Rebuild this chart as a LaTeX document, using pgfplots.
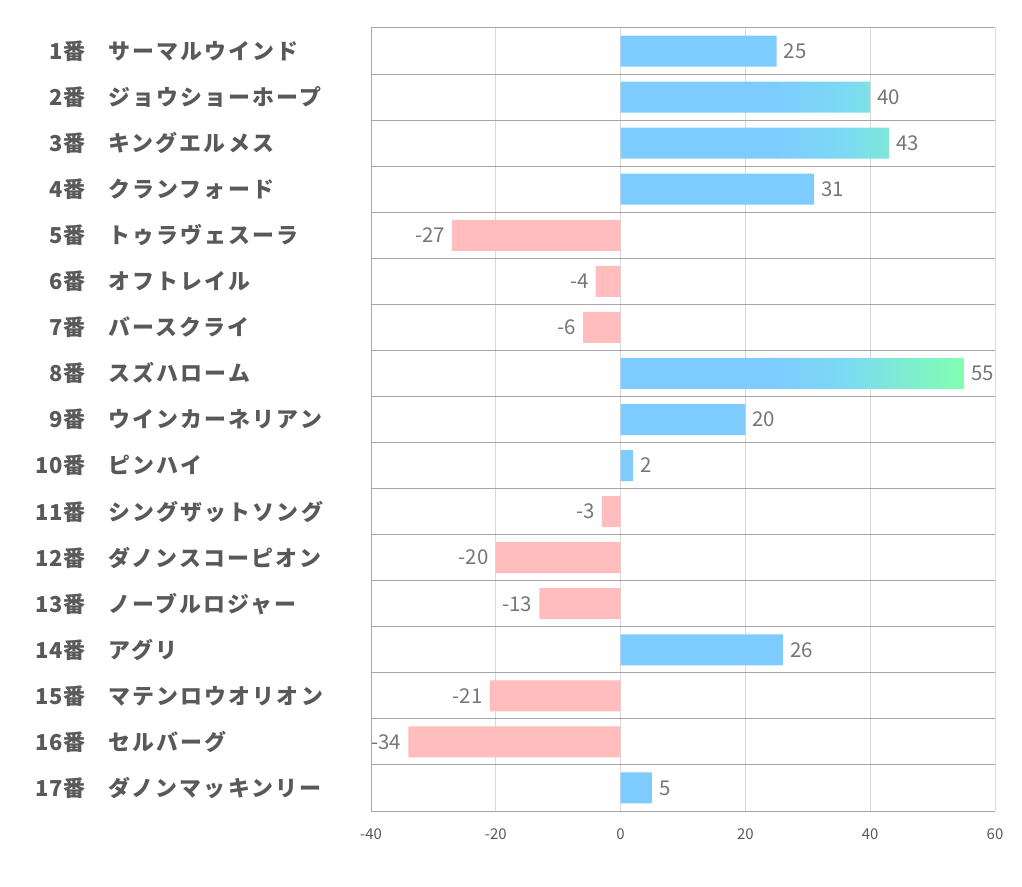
\documentclass[border=0pt]{standalone}
\usepackage{pgfplots}
\pgfplotsset{compat=1.18}
\usepackage{fontspec}
\setmainfont{Noto Sans CJK JP}
\definecolor{barblue}{RGB}{125,203,255}
\definecolor{barcyan}{RGB}{124,218,242}
\definecolor{bargreen}{RGB}{128,255,176}
\definecolor{barpink}{RGB}{255,189,189}
\definecolor{sepgray}{RGB}{166,166,166}
\definecolor{gridgray}{RGB}{217,217,217}
\definecolor{labgray}{RGB}{89,89,89}
\definecolor{valgray}{RGB}{118,118,118}
\pgfdeclarehorizontalshading{bargrad}{100bp}{color(0bp)=(barblue); color(25bp)=(barblue); color(47bp)=(barblue); color(58bp)=(barcyan); color(75bp)=(bargreen); color(100bp)=(bargreen)}
\newcommand{\lab}[2]{\makebox[62bp][r]{\addfontfeature{LetterSpace=3}#1}\hspace{23bp}{\addfontfeature{LetterSpace=10}#2}}
\begin{document}
\begin{tikzpicture}[x=1bp,y=1bp]
\begin{axis}[at={(371bp,76bp)}, anchor=south west, scale only axis,
  width=624bp, height=783bp,
  xbar, bar shift=0pt, bar width=31bp,
  xmin=-40, xmax=60, ymin=0.5, ymax=17.5, y dir=reverse,
  xtick={-40,-20,0,20,40,60}, xticklabels={-40,-20,0,20,40,60},
  ytick={1,...,17},
  yticklabels={
    {\lab{1番}{サーマルウインド}},
    {\lab{2番}{ジョウショーホープ}},
    {\lab{3番}{キングエルメス}},
    {\lab{4番}{クランフォード}},
    {\lab{5番}{トゥラヴェスーラ}},
    {\lab{6番}{オフトレイル}},
    {\lab{7番}{バースクライ}},
    {\lab{8番}{スズハローム}},
    {\lab{9番}{ウインカーネリアン}},
    {\lab{10番}{ピンハイ}},
    {\lab{11番}{シングザットソング}},
    {\lab{12番}{ダノンスコーピオン}},
    {\lab{13番}{ノーブルロジャー}},
    {\lab{14番}{アグリ}},
    {\lab{15番}{マテンロウオリオン}},
    {\lab{16番}{セルバーグ}},
    {\lab{17番}{ダノンマッキンリー}}},
  minor ytick={0.5,1.5,...,16.5},
  yminorgrids, xmajorgrids,
  major grid style={gridgray, line width=0.75bp},
  minor grid style={sepgray, line width=1bp},
  axis x line*=bottom, axis y line*=left,
  axis line style={sepgray, line width=1bp, -},
  major tick length=0pt, minor tick length=0pt,
  tick style={draw=none},
  xticklabel style={font=\fontsize{15}{17}\selectfont, text=labgray, yshift=-14bp},
  yticklabel style={anchor=west, inner sep=0pt, xshift=-348bp, font=\fontsize{22}{24}\selectfont\bfseries, text=labgray},
  nodes near coords={\pgfmathprintnumber[assume math mode=true]{\pgfplotspointmeta}},
  nodes near coords style={font=\fontsize{20.5}{22}\selectfont, text=valgray, inner xsep=7bp},
  point meta=x,
]
\addplot[draw=none, fill=barblue] coordinates {(25,1) (31,4) (20,9) (2,10) (26,14) (5,17)};
\addplot[draw=none, shading=bargrad] coordinates {(40,2) (43,3) (55,8)};
\addplot[draw=none, fill=barpink] coordinates {(-27,5) (-4,6) (-6,7) (-3,11) (-20,12) (-13,13) (-21,15) (-34,16)};
\end{axis}
\pgfresetboundingbox
\useasboundingbox (0bp,0bp) rectangle (1022bp,887bp);
\end{tikzpicture}
\end{document}
